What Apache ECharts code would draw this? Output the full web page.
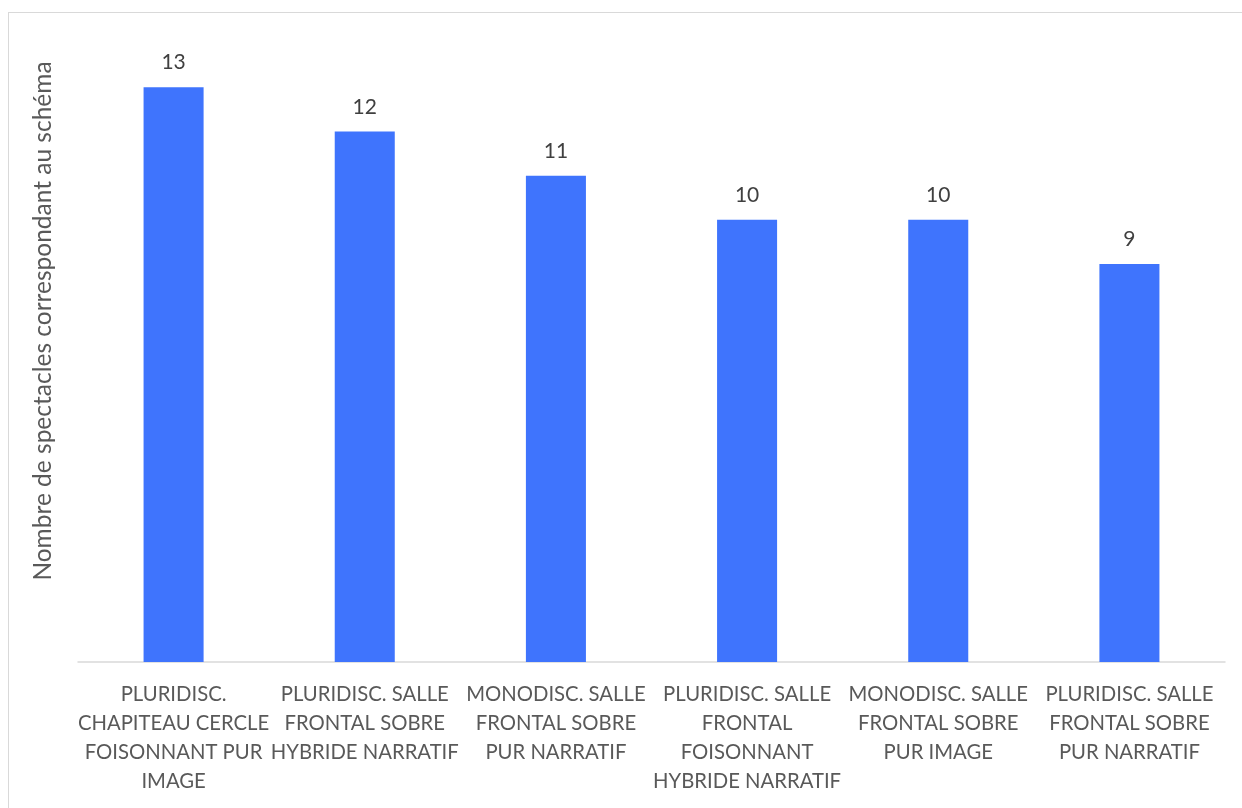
<!DOCTYPE html>
<html>
<head>
<meta charset="utf-8">
<script src="https://cdn.jsdelivr.net/npm/echarts@6/dist/echarts.min.js"></script>
<style>
html,body{margin:0;padding:0;background:#fff;}
#frame{position:absolute;left:8px;top:12px;width:1240px;height:800px;border:1px solid #d9d9d9;box-sizing:border-box;}
#chart{position:absolute;left:0;top:0;width:1242px;height:808px;}
</style>
</head>
<body>
<div id="frame"></div>
<div id="chart"></div>
<script>
const categories = [
  "PLURIDISC.\nCHAPITEAU CERCLE\nFOISONNANT PUR\nIMAGE",
  "PLURIDISC. SALLE\nFRONTAL SOBRE\nHYBRIDE NARRATIF",
  "MONODISC. SALLE\nFRONTAL SOBRE\nPUR NARRATIF",
  "PLURIDISC. SALLE\nFRONTAL\nFOISONNANT\nHYBRIDE NARRATIF",
  "MONODISC. SALLE\nFRONTAL SOBRE\nPUR IMAGE",
  "PLURIDISC. SALLE\nFRONTAL SOBRE\nPUR NARRATIF"
];
const values = [13, 12, 11, 10, 10, 9];
const yAxisTitle = "Nombre de spectacles correspondant au schéma";

const FONT = "Lato";
const chart = echarts.init(document.getElementById('chart'), null, {renderer: 'canvas'});
chart.setOption({
  animation: false,
  backgroundColor: 'transparent',
  grid: {left: 78, right: 17, top: 43, bottom: 146},
  xAxis: {
    type: 'category',
    data: categories,
    axisLine: {show: true, lineStyle: {color: '#d9d9d9', width: 1.5}},
    axisTick: {show: false},
    axisLabel: {
      interval: 0,
      margin: 18,
      color: '#595959',
      fontFamily: FONT,
      fontSize: 20.3,
      lineHeight: 29,
      align: 'center'
    }
  },
  yAxis: {
    type: 'value',
    min: 0,
    max: 14,
    show: false
  },
  graphic: [{
    type: 'text',
    x: 43,
    y: 321,
    rotation: Math.PI / 2,
    style: {
      text: yAxisTitle,
      fill: '#595959',
      font: '24.5px ' + FONT,
      align: 'center',
      verticalAlign: 'middle'
    }
  }],
  series: [{
    type: 'bar',
    data: values,
    barWidth: '31.4%',
    itemStyle: {color: '#3f74fd'},
    label: {
      show: true,
      position: 'top',
      distance: 14,
      color: '#404040',
      fontFamily: FONT,
      fontSize: 21
    }
  }]
});
</script>
</body>
</html>
